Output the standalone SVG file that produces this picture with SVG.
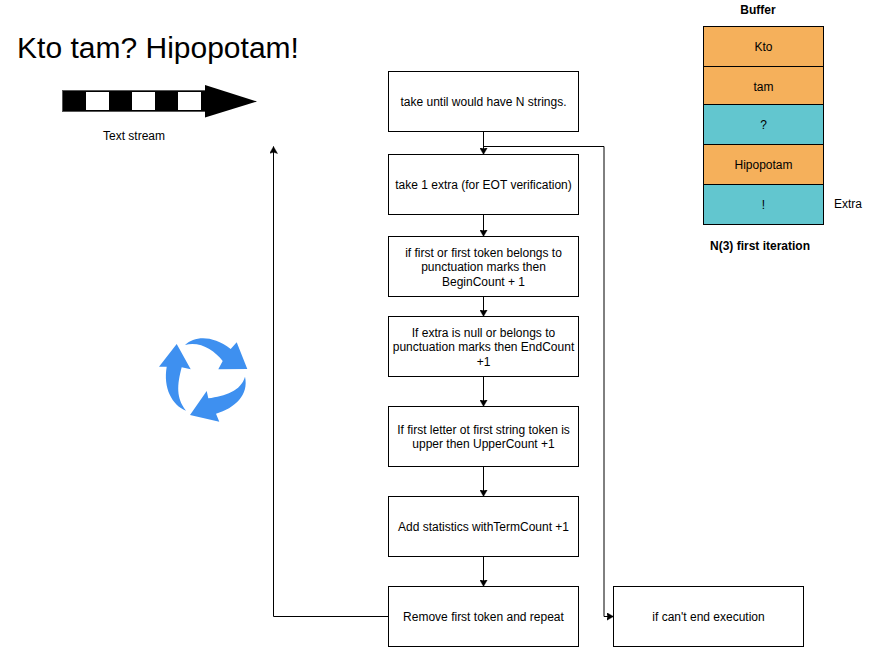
<svg xmlns="http://www.w3.org/2000/svg" width="873" height="647" viewBox="0 0 873 647">
<style>
text{font-family:"Liberation Sans",Arial,Helvetica,sans-serif;font-size:12px;fill:#000;text-anchor:middle}
.b{fill:#fff;stroke:#000;stroke-width:1}
.o{fill:#f5b05b;stroke:#000;stroke-width:1}
.t{fill:#62c6cf;stroke:#000;stroke-width:1}
.c{fill:none;stroke:#000;stroke-width:1}
.bold{font-weight:bold}
.i{fill:#3e90f0}
</style>
<defs>
<marker id="a" viewBox="0 0 8 8" refX="7" refY="4" markerWidth="8" markerHeight="8" markerUnits="userSpaceOnUse" orient="auto"><path d="M0 0L7 4L0 8L1.2 4Z" fill="#000" stroke="#000" stroke-width="0.4"/></marker>
</defs>
<rect width="873" height="647" fill="#fff"/>
<text x="158" y="58" style="font-size:30px">Kto tam? Hipopotam!</text>
<g id="stream">
<rect x="62.500" y="90.500" width="145" height="21" fill="#000" stroke="#555"/>
<rect x="86" y="92" width="23" height="18" fill="#fff"/>
<rect x="132" y="92" width="23" height="18" fill="#fff"/>
<rect x="178" y="92" width="23" height="18" fill="#fff"/>
<path d="M205 85L257 101.500L205 117.500Z" fill="#000"/>
<text x="134" y="140">Text stream</text>
</g>
<g id="cycle">
<path class="i" d="M185 345C195 336 212 335 230.700 349L236.700 342.300L247.300 369L218.300 369.300L222.700 361C214 350 200 341 185 345Z"/>
<path class="i" d="M176.700 344L190.700 369.300L181.700 367.300C177 385 176 398 186 410.700C172 405 163 388 166.700 366.700L159 366.700Z"/>
<path class="i" d="M245 376.700C249 395 235 408 216 413.700L219.300 421.700L190 415L206.700 391L208.300 398.300C225 396 241 391 245 376.700Z"/>
</g>
<g id="connectors">
<path class="c" marker-end="url(#a)" d="M483.500 131.500V154.500"/>
<path class="c" marker-end="url(#a)" d="M483.500 146.500H604V616.500H613.500"/>
<path class="c" marker-end="url(#a)" d="M483.500 214.500V236.500"/>
<path class="c" marker-end="url(#a)" d="M483.500 296.500V316.500"/>
<path class="c" marker-end="url(#a)" d="M483.500 376.500V406.500"/>
<path class="c" marker-end="url(#a)" d="M483.500 466.500V496.500"/>
<path class="c" marker-end="url(#a)" d="M483.500 556.500V586.500"/>
<path class="c" marker-end="url(#a)" d="M388.500 616.500H273.500V146.500"/>
</g>
<g id="n1"><rect class="b" x="388.500" y="71.500" width="190" height="60"/><text x="483.500" y="106">take until would have N strings.</text></g>
<g id="n2"><rect class="b" x="388.500" y="154.500" width="190" height="60"/><text x="483.500" y="189">take 1 extra (for EOT verification)</text></g>
<g id="n3"><rect class="b" x="388.500" y="236.500" width="190" height="60"/><text x="483.500" y="257">if first or first token belongs to</text><text x="483.500" y="271">punctuation marks then</text><text x="483.500" y="286">BeginCount + 1</text></g>
<g id="n4"><rect class="b" x="388.500" y="316.500" width="190" height="60"/><text x="483.500" y="337">If extra is null or belongs to</text><text x="483.500" y="351">punctuation marks then EndCount</text><text x="483.500" y="366">+1</text></g>
<g id="n5"><rect class="b" x="388.500" y="406.500" width="190" height="60"/><text x="483.500" y="434">If first letter ot first string token is</text><text x="483.500" y="448">upper then UpperCount +1</text></g>
<g id="n6"><rect class="b" x="388.500" y="496.500" width="190" height="60"/><text x="483.500" y="531">Add statistics withTermCount +1</text></g>
<g id="n7"><rect class="b" x="388.500" y="586.500" width="190" height="60"/><text x="483.500" y="621">Remove first token and repeat</text></g>
<g id="n8"><rect class="b" x="613.500" y="586.500" width="190" height="60"/><text x="708.500" y="621">if can't end execution</text></g>
<g id="buffer">
<text x="758" y="14" class="bold">Buffer</text>
<rect class="o" x="703.500" y="26.500" width="120" height="40"/><text x="763.500" y="51">Kto</text>
<rect class="o" x="703.500" y="66.500" width="120" height="38"/><text x="763.500" y="91">tam</text>
<rect class="t" x="703.500" y="104.500" width="120" height="40"/><text x="763.500" y="129">?</text>
<rect class="o" x="703.500" y="144.500" width="120" height="40"/><text x="763.500" y="169">Hipopotam</text>
<rect class="t" x="703.500" y="184.500" width="120" height="40"/><text x="763.500" y="209">!</text>
<text x="848" y="208">Extra</text>
<text x="760" y="250" class="bold">N(3) first iteration</text>
</g>
</svg>
